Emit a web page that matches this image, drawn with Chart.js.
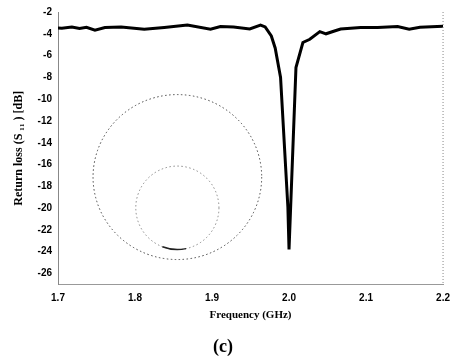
<!DOCTYPE html>
<html>
<head>
<meta charset="utf-8">
<script src="https://cdn.jsdelivr.net/npm/chart.js@4/dist/chart.umd.min.js"></script>
<style>
html,body{margin:0;padding:0;background:#fff;}
#wrap{width:458px;height:360px;position:relative;}
</style>
</head>
<body>
<div id="wrap"><canvas id="c"></canvas></div>
<script>
// Frequency samples (GHz)
const freqGHz = [1.700, 1.705, 1.718, 1.728, 1.737, 1.748, 1.761, 1.782, 1.812, 1.838,
  1.868, 1.898, 1.911, 1.928, 1.949, 1.963, 1.969, 1.977, 1.982, 1.989,
  1.9985, 2.000, 2.009, 2.018, 2.027, 2.040, 2.048, 2.061, 2.067, 2.093,
  2.115, 2.141, 2.156, 2.170, 2.200];
// Return loss S11 (dB)
const returnLossDb = [-3.46, -3.48, -3.37, -3.52, -3.40, -3.67, -3.43, -3.37, -3.58, -3.42,
  -3.20, -3.58, -3.34, -3.37, -3.55, -3.20, -3.37, -4.20, -5.30, -8.00,
  -19.90, -23.80, -7.10, -4.80, -4.50, -3.80, -4.00, -3.70, -3.56, -3.43,
  -3.43, -3.34, -3.58, -3.40, -3.30];
const xTicks = [1.7, 1.8, 1.9, 2.0, 2.1, 2.2];
const yTicks = [-2, -4, -6, -8, -10, -12, -14, -16, -18, -20, -22, -24, -26];
// Inset circles (data units)
const circleCx = [1.855, 1.855];
const circleCy = [-17.15, -19.97];
const circleRx = [0.1095, 0.054];
const circleRy = [7.57, 3.83];

const circlesPlugin = {
  id: 'insetCircles',
  afterDatasetsDraw(chart) {
    const {ctx, scales: {x, y}} = chart;
    const colors = ['#444', '#888'];
    ctx.save();
    for (let i = 0; i < circleCx.length; i++) {
      const cx = x.getPixelForValue(circleCx[i]);
      const cy = y.getPixelForValue(circleCy[i]);
      const rx = Math.abs(x.getPixelForValue(circleCx[i] + circleRx[i]) - cx);
      const ry = Math.abs(y.getPixelForValue(circleCy[i] + circleRy[i]) - cy);
      ctx.beginPath();
      ctx.setLineDash([1.5, 2.5]);
      ctx.lineWidth = 1;
      ctx.strokeStyle = colors[i];
      ctx.ellipse(cx, cy, rx, ry, 0, 0, Math.PI * 2);
      ctx.stroke();
      if (i === 1) {
        ctx.beginPath();
        ctx.setLineDash([]);
        ctx.lineWidth = 1.5;
        ctx.strokeStyle = '#222';
        ctx.ellipse(cx, cy, rx, ry, 0, 78 * Math.PI / 180, 111 * Math.PI / 180);
        ctx.stroke();
      }
    }
    // right frame edge
    const a = chart.chartArea;
    ctx.beginPath();
    ctx.setLineDash([1, 2]);
    ctx.lineWidth = 1;
    ctx.strokeStyle = '#888';
    ctx.moveTo(a.right, a.top);
    ctx.lineTo(a.right, a.bottom);
    ctx.stroke();
    ctx.restore();
  }
};

new Chart(document.getElementById('c'), {
  type: 'line',
  data: {
    datasets: [{
      data: freqGHz.map((f, i) => ({x: f, y: returnLossDb[i]})),
      borderColor: '#000',
      borderWidth: 3,
      pointRadius: 0,
      tension: 0,
      fill: false
    }]
  },
  options: {
    responsive: true,
    maintainAspectRatio: false,
    animation: false,
    layout: {padding: {top: 11, right: 12, left: 0, bottom: 0}},
    plugins: {
      legend: {display: false},
      tooltip: {enabled: false},
      title: {
        display: true,
        position: 'bottom',
        text: '(c)',
        color: '#000',
        font: {family: "'Liberation Serif', serif", size: 18, weight: 'bold'},
        padding: {top: 8, bottom: 2}
      }
    },
    scales: {
      x: {
        type: 'linear',
        min: 1.7,
        max: 2.2,
        afterBuildTicks: s => { s.ticks = xTicks.map(v => ({value: v})); },
        afterFit: s => { s.height = 44; },
        grid: {display: false, drawTicks: false},
        border: {display: true, color: '#999', dash: [1, 2], width: 1},
        ticks: {
          color: '#000',
          padding: 8,
          maxRotation: 0,
          font: {family: "'Liberation Sans', Arial, sans-serif", size: 10, weight: 'bold'},
          callback: v => Number(v).toFixed(1)
        },
        title: {
          display: true,
          text: 'Frequency (GHz)',
          color: '#000',
          font: {family: "'Liberation Serif', serif", size: 11, weight: 'bold'},
          padding: {top: 0, bottom: 7}
        }
      },
      y: {
        min: -27,
        max: -2,
        afterBuildTicks: s => { s.ticks = yTicks.map(v => ({value: v})); },
        afterFit: s => { s.width = 58; },
        grid: {display: false, drawTicks: false},
        border: {display: true, color: '#888', dash: [1, 2], width: 1},
        ticks: {
          color: '#000',
          padding: 6,
          font: {family: "'Liberation Sans', Arial, sans-serif", size: 10, weight: 'bold'},
          callback: v => String(v)
        },
        title: {
          display: true,
          text: 'Return loss (S \u2081\u2081 ) [dB]',
          color: '#000',
          font: {family: "'Liberation Serif', serif", size: 12, weight: 'bold'},
          padding: {top: 12, bottom: 0}
        }
      }
    }
  },
  plugins: [circlesPlugin]
});
</script>
</body>
</html>
